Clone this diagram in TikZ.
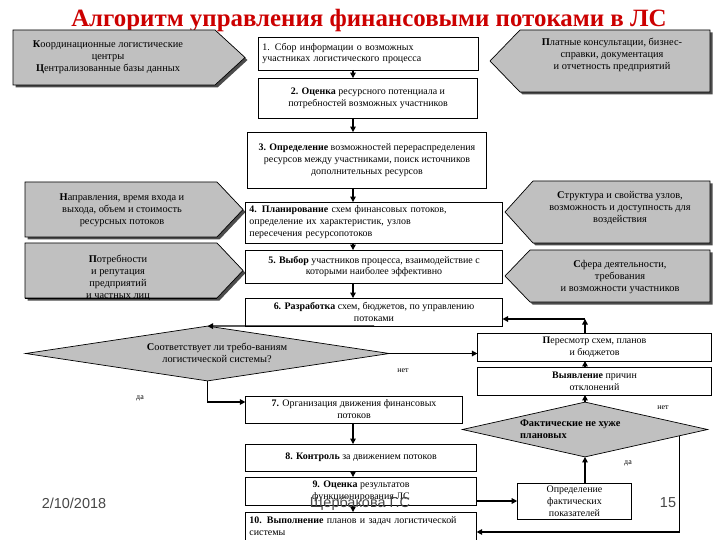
\documentclass[tikz,border=0pt]{standalone}
\usepackage{fontspec}
\setmainfont{Liberation Serif}
\newfontfamily\sansf{Liberation Sans}
\usetikzlibrary{arrows.meta,shapes.geometric,calc}
\definecolor{sgray}{RGB}{192,192,192}
\definecolor{ttlred}{RGB}{204,0,0}
\newcommand\fs{\fontsize{10}{12}\selectfont}
\newcommand\fsg{\fontsize{10.4}{12}\selectfont}
\begin{document}
\begin{tikzpicture}[x=1bp,y=-1bp,
  every node/.style={inner sep=0pt, outer sep=0pt},
  lab/.style={font=\fsg, align=center},
  small/.style={font=\fontsize{8}{9}\selectfont},
  box/.style={draw, line width=0.7bp, fill=white, font=\fs, align=center},
  lbox/.style={box, align=left, inner xsep=4bp},
  dia/.style={draw, diamond, fill=sgray, line width=0.7bp},
  pent/.style={fill=sgray, draw=black, line width=0.7bp},
  shad/.style={fill=black!70},
  arr/.style={line width=1.3bp, -{Triangle[length=5.5bp,width=5.5bp]}},
  foot/.style={font=\sansf\fontsize{14.5}{15}\selectfont, text=black!72}]
\useasboundingbox (0,0) rectangle (720,540);
\fill[white] (0,0) rectangle (720,540);

% title
\node[font=\bfseries\fontsize{25}{25}\selectfont, text=ttlred, anchor=base] (title) at (369,27) {Алгоритм управления финансовыми потоками в ЛС};

% grey pointer shapes (left, pointing right)
\path[shad, shift={(2.5,2.5)}] (13,30) -- (215,30) -- (245,57.5) -- (215,85) -- (13,85) -- cycle;
\path[pent] (13,30) -- (215,30) -- (245,57.5) -- (215,85) -- (13,85) -- cycle;
\node[lab] (tA) at (108,57.5) {\textbf{К}оординационные логистические\\центры\\\textbf{Ц}ентрализованные базы данных};

\path[shad, shift={(2.5,2.5)}] (25,182) -- (217,182) -- (243,209.5) -- (217,237) -- (25,237) -- cycle;
\path[pent] (25,182) -- (217,182) -- (243,209.5) -- (217,237) -- (25,237) -- cycle;
\node[lab] (tB) at (122,210) {\textbf{Н}аправления, время входа и\\выхода, объем и стоимость\\ресурсных потоков};

\path[shad, shift={(2.5,2.5)}] (25,243) -- (217,243) -- (243,270.5) -- (217,298) -- (25,298) -- cycle;
\path[pent] (25,243) -- (217,243) -- (243,270.5) -- (217,298) -- (25,298) -- cycle;
\node[lab] (tC) at (118,278) {\textbf{П}отребности\\и репутация\\предприятий\\и частных лиц};
\draw[line width=0.7bp] (25,298) -- (217,298);

% grey pointer shapes (right, pointing left)
\path[shad, shift={(2.5,2.5)}] (710,30) -- (520,30) -- (490,61) -- (520,92) -- (710,92) -- cycle;
\path[pent] (710,30) -- (520,30) -- (490,61) -- (520,92) -- (710,92) -- cycle;
\node[lab] (tD) at (612,54.5) {\textbf{П}латные консультации, бизнес-\\справки, документация\\и отчетность предприятий};

\path[shad, shift={(2.5,2.5)}] (710,181) -- (533,181) -- (505,212) -- (533,243) -- (710,243) -- cycle;
\path[pent] (710,181) -- (533,181) -- (505,212) -- (533,243) -- (710,243) -- cycle;
\node[lab] (tE) at (620,208) {\textbf{С}труктура и свойства узлов,\\возможность и доступность для\\воздействия};

\path[shad, shift={(2.5,2.5)}] (710,250) -- (530,250) -- (505,276) -- (530,302) -- (710,302) -- cycle;
\path[pent] (710,250) -- (530,250) -- (505,276) -- (530,302) -- (710,302) -- cycle;
\node[lab] (tF) at (620,277) {\textbf{С}фера деятельности,\\требования\\и возможности участников};

% main column
\node[lbox, text width=213, minimum height=33] (b1) at (368.5,53.5) {1. Сбор информации о возможных\\участниках логистического процесса};
\node[box, minimum width=220, minimum height=40] (b2) at (368,98) {\textbf{2. Оценка} ресурсного потенциала и\\потребностей возможных участников};
\node[box, minimum width=240, minimum height=56] (b3) at (367,160) {\textbf{3. Определение} возможностей перераспределения\\ресурсов между участниками, поиск источников\\дополнительных ресурсов};
\node[lbox, text width=250, minimum height=41] (b4) at (374,222.5) {\textbf{4. Планирование} схем финансовых потоков,\\определение их характеристик, узлов\\пересечения ресурсопотоков};
\node[box, minimum width=258, minimum height=33] (b5) at (374,266.5) {\textbf{5. Выбор} участников процесса, взаимодействие с\\которыми наиболее эффективно};
\node[box, minimum width=258, minimum height=28] (b6) at (374,312) {\textbf{6. Разработка} схем, бюджетов, по управлению\\потоками};

\node[dia, minimum width=365, minimum height=55] (d1) at (207.5,353.5) {};
\node[lab] (d1t) at (217,353) {\textbf{С}оответствует ли требо-ваниям\\логистической системы?};

\node[box, minimum width=218, minimum height=27] (b7) at (354,409.5) {\textbf{7.} Организация движения финансовых\\потоков};
\node[box, minimum width=232, minimum height=27] (b8) at (361,457.5) {\textbf{8. Контроль} за движением потоков};
\node[box, minimum width=232, minimum height=28] (b9) at (361,491) {\textbf{9. Оценка} результатов\\функционирования ЛС};
\node[lbox, text width=224, minimum height=29] (b10) at (361,526.5) {\textbf{10. Выполнение} планов и задач логистической\\системы};

% right column
\node[box, minimum width=235, minimum height=28] (per) at (594.5,347) {\textbf{П}ересмотр схем, планов\\и бюджетов};
\node[box, minimum width=235, minimum height=28] (vyy) at (594.5,381) {\textbf{Выявление} причин\\отклонений};
\node[dia, minimum width=246, minimum height=55] (d2) at (585,429.5) {};
\node[lab, align=left, anchor=west] (d2t) at (520,429) {\textbf{Фактические не хуже}\\\textbf{плановых}};
\node[box, minimum width=115, minimum height=36] (opr) at (574.5,501) {Определение\\фактических\\показателей};

% connectors
\coordinate (cx) at (353,0);
\coordinate (rx) at (585,0);
\draw[arr] (cx |- b1.south) -- (cx |- b2.north);
\draw[arr] (cx |- b2.south) -- (cx |- b3.north);
\draw[arr] (cx |- b3.south) -- (cx |- b4.north);
\draw[arr] (cx |- b4.south) -- (cx |- b5.north);
\draw[arr] (cx |- b5.south) -- (cx |- b6.north);
\draw[arr] (b6.south) -- (d1.north);
\draw[arr] (d1.east) -- (d1.east -| per.west);
\draw[arr] (d1.south) |- ($(b7.west)+(0,-7.5)$);
\draw[arr] (cx |- b7.south) -- (cx |- b8.north);
\draw[arr] (cx |- b8.south) -- (cx |- b9.north);
\draw[arr] (cx |- b9.south) -- (cx |- b10.north);
\coordinate (k1) at (585,319);
\draw[arr] (rx |- per.north) -- (k1);
\draw[arr] (k1) -- (k1 -| b6.east);
\draw[arr] (rx |- vyy.north) -- (rx |- per.south);
\draw[arr] (d2.north) -- (rx |- vyy.south);
\draw[arr] (rx |- opr.north) -- (d2.south);
\draw[arr] (opr.west -| b9.east) -- (opr.west);
\coordinate (k2) at ($(d2.east)!0.228!(d2.south)$);
\draw[arr] (k2) |- ($(b10.east)+(0,5.5)$);

% branch labels
\node[small] (n1) at (403,371) {нет};
\node[small] (y1) at (140,398) {да};
\node[small] (n2) at (663,408) {нет};
\node[small] (y2) at (628,463) {да};

% footer
\node[foot] (date) at (74,503) {2/10/2018};
\node[foot] (auth) at (360,504) {Щербакова Г.С};
\node[foot] (pg) at (668,503) {15};
\end{tikzpicture}
\end{document}
